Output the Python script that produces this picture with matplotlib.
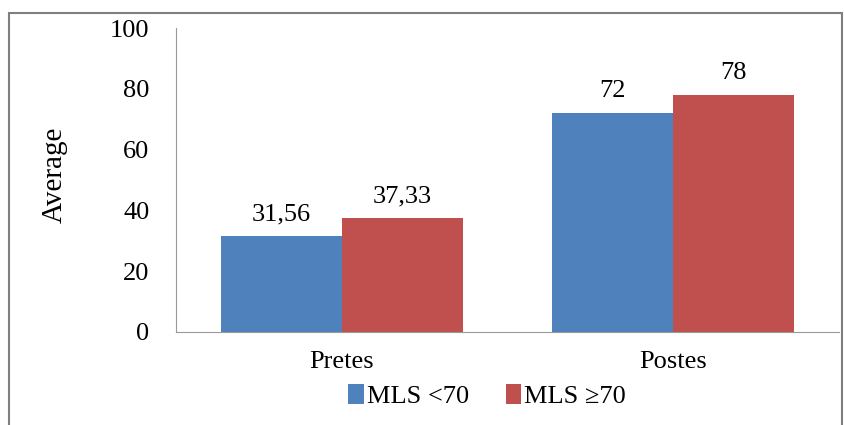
import matplotlib
matplotlib.use("Agg")
import matplotlib.pyplot as plt
import numpy as np
from matplotlib.patches import Rectangle

categorias = ["Pretes", "Postes"]
series = ["MLS <70", "MLS \u226570"]
valores_bajo = [31.56, 72]
valores_alto = [37.33, 78]
etiquetas_bajo = ["31,56", "72"]
etiquetas_alto = ["37,33", "78"]

plt.rcParams['font.family'] = ['Liberation Serif', 'DejaVu Serif']

fig = plt.figure(figsize=(8.45, 4.25), dpi=100)
ax = fig.add_axes([0.208, 0.219, 0.785, 0.715])

# marco gris alrededor de la figura
fig.patches.append(Rectangle((9/845, -0.05), 833/845, 1.05 - 13/425, transform=fig.transFigure,
                             fill=False, edgecolor='#7f7f7f', linewidth=1.5))

x = np.arange(len(categorias))
ancho = 0.365
b1 = ax.bar(x - ancho/2, valores_bajo, ancho, color='#4F81BD', label=series[0])
b2 = ax.bar(x + ancho/2, valores_alto, ancho, color='#C0504D', label=series[1])

for rect, txt in zip(b1, etiquetas_bajo):
    ax.text(rect.get_x() + rect.get_width()/2, rect.get_height() + 3.5, txt,
            ha='center', va='bottom', fontsize=19)
for rect, txt in zip(b2, etiquetas_alto):
    ax.text(rect.get_x() + rect.get_width()/2, rect.get_height() + 3.5, txt,
            ha='center', va='bottom', fontsize=19)

ax.set_xlim(-0.5, 1.5)
ax.set_ylim(0, 100)
ax.set_yticks([0, 20, 40, 60, 80, 100])
ax.set_xticks(x)
ax.set_xticklabels(categorias, fontsize=19)
ax.tick_params(axis='y', labelsize=19, length=0, pad=19)
ax.tick_params(axis='x', length=0, pad=14)

for lado in ['top', 'right']:
    ax.spines[lado].set_visible(False)
ax.spines['left'].set_color('#999999')
ax.spines['bottom'].set_color('#999999')

fig.text(55/845, 1 - 175/425, "Average", rotation=90, ha='center', va='center', fontsize=21)

fig.legend(handles=[b1, b2], loc='center', bbox_to_anchor=(487/845, 1 - 396/425), ncol=2,
           frameon=False, fontsize=19, handlelength=0.6, handleheight=0.8, handletextpad=0.1,
           columnspacing=1.4)

plt.savefig("out.png", dpi=100)
